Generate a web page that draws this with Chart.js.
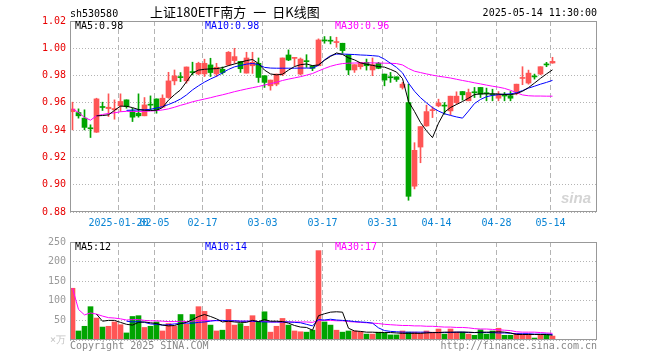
<!DOCTYPE html>
<html>
<head>
<meta charset="utf-8">
<script src="https://cdn.jsdelivr.net/npm/chart.js@4.4.1/dist/chart.umd.min.js"></script>
<style>
  body { margin: 0; width: 660px; height: 360px; background: #fff; position: relative; overflow: hidden;
         font-family: "DejaVu Sans Mono", monospace; font-size: 10px; }
  canvas { position: absolute; left: 0; }
  .t { position: absolute; white-space: nowrap; line-height: 12px; }
</style>
</head>
<body>
<canvas id="kline" width="660" height="232" style="top:0"></canvas>
<canvas id="vol" width="660" height="128" style="top:232px"></canvas>

<div class="t" style="left:70px;top:8px;color:#000">sh530580</div>
<div class="t" style="left:150px;top:4px;line-height:15px;font-size:13px;font-family:'Noto Sans CJK SC',sans-serif;color:#000">上证180ETF南方<span style="margin:0 6px 0 7px">一</span>日K线图</div>
<div class="t" style="right:63px;top:7px;color:#000">2025-05-14 11:30:00</div>
<div class="t" style="left:75px;top:20px;color:#000">MA5:0.98</div>
<div class="t" style="left:205px;top:20px;color:#0000ff">MA10:0.98</div>
<div class="t" style="left:335px;top:20px;color:#ff00ff">MA30:0.96</div>
<div class="t" style="left:75px;top:241px;color:#000">MA5:12</div>
<div class="t" style="left:205px;top:241px;color:#0000ff">MA10:14</div>
<div class="t" style="left:335px;top:241px;color:#ff00ff">MA30:17</div>
<div class="t" style="left:70px;top:340px;color:#888">Copyright 2025 SINA.COM</div>
<div class="t" style="right:63px;top:340px;color:#888">http://finance.sina.com.cn</div>
<div class="t" style="left:561px;top:189px;font:italic bold 15px 'Liberation Sans',sans-serif;color:#d4d4d4">sina</div>

<script>
// daily candles, 81 trading days ending 2025-05-14
var opens = [0.9535,0.9529,0.9488,0.9415,0.9385,0.9570,0.9558,0.9549,0.9578,0.9622,
  0.9541,0.9524,0.9505,0.9587,0.9629,0.9568,0.9639,0.9761,0.9790,0.9761,
  0.9826,0.9812,0.9812,0.9878,0.9812,0.9846,0.9878,0.9910,0.9904,0.9818,
  0.9872,0.9890,0.9799,0.9725,0.9737,0.9811,0.9951,0.9926,0.9811,0.9906,
  0.9872,0.9872,1.0058,1.0056,1.0042,1.0037,0.9953,0.9841,0.9865,0.9897,
  0.9841,0.9890,0.9811,0.9788,0.9791,0.9713,0.9602,0.8989,0.9276,0.9431,
  0.9543,0.9578,0.9580,0.9541,0.9602,0.9683,0.9615,0.9678,0.9713,0.9671,
  0.9662,0.9634,0.9654,0.9652,0.9683,0.9779,0.9745,0.9794,0.9811,0.9882,0.9892];
var highs = [0.9605,0.9556,0.9549,0.9439,0.9634,0.9605,0.9666,0.9622,0.9666,0.9622,
  0.9561,0.9666,0.9639,0.9651,0.9629,0.9659,0.9824,0.9841,0.9822,0.9863,
  0.9898,0.9898,0.9920,0.9927,0.9890,0.9863,0.9976,1.0000,0.9904,0.9971,
  0.9971,0.9929,0.9799,0.9767,0.9811,0.9929,0.9988,0.9929,0.9929,0.9953,
  0.9872,1.0069,1.0086,1.0086,1.0081,1.0037,0.9953,0.9880,0.9897,0.9921,
  0.9929,0.9897,0.9811,0.9823,0.9791,0.9750,0.9737,0.9308,0.9426,0.9583,
  0.9571,0.9627,0.9602,0.9649,0.9681,0.9683,0.9701,0.9713,0.9713,0.9708,
  0.9700,0.9683,0.9676,0.9683,0.9737,0.9865,0.9840,0.9811,0.9865,0.9897,0.9934];
var lows = [0.9402,0.9488,0.9402,0.9346,0.9383,0.9544,0.9500,0.9480,0.9537,0.9561,
  0.9463,0.9495,0.9505,0.9549,0.9524,0.9568,0.9634,0.9732,0.9756,0.9744,
  0.9805,0.9805,0.9793,0.9793,0.9793,0.9810,0.9872,0.9890,0.9823,0.9818,
  0.9816,0.9750,0.9713,0.9693,0.9725,0.9799,0.9909,0.9872,0.9804,0.9860,
  0.9836,0.9872,1.0037,1.0032,1.0007,0.9963,0.9806,0.9823,0.9848,0.9840,
  0.9799,0.9850,0.9725,0.9750,0.9757,0.9701,0.8886,0.8969,0.9161,0.9428,
  0.9492,0.9571,0.9517,0.9512,0.9590,0.9620,0.9615,0.9639,0.9639,0.9615,
  0.9615,0.9615,0.9615,0.9615,0.9659,0.9733,0.9737,0.9774,0.9806,0.9865,0.9890];
var closes = [0.9555,0.9505,0.9420,0.9410,0.9629,0.9566,0.9568,0.9558,0.9610,0.9573,
  0.9495,0.9505,0.9585,0.9583,0.9549,0.9634,0.9761,0.9798,0.9785,0.9863,
  0.9822,0.9890,0.9890,0.9822,0.9861,0.9822,0.9971,0.9939,0.9850,0.9929,
  0.9897,0.9786,0.9750,0.9767,0.9811,0.9929,0.9914,0.9929,0.9921,0.9902,
  0.9853,1.0061,1.0054,1.0052,1.0046,0.9983,0.9841,0.9880,0.9897,0.9872,
  0.9880,0.9853,0.9767,0.9784,0.9772,0.9737,0.8915,0.9252,0.9426,0.9536,
  0.9546,0.9600,0.9576,0.9649,0.9649,0.9659,0.9676,0.9674,0.9664,0.9667,
  0.9658,0.9659,0.9650,0.9634,0.9737,0.9784,0.9818,0.9790,0.9865,0.9878,0.9904];

var ma5 = [null,null,null,null,0.9505,0.9507,0.9512,0.9545,0.9576,0.9575,
  0.9565,0.9551,0.9546,0.9544,0.9546,0.9565,0.9620,0.9660,0.9695,0.9755,
  0.9817,0.9840,0.9846,0.9849,0.9851,0.9858,0.9873,0.9885,0.9898,0.9910,
  0.9918,0.9888,0.9840,0.9812,0.9805,0.9810,0.9840,0.9866,0.9880,0.9885,
  0.9873,0.9878,0.9912,0.9940,0.9966,0.9955,0.9930,0.9915,0.9893,0.9883,
  0.9875,0.9866,0.9862,0.9845,0.9826,0.9778,0.9610,0.9537,0.9456,0.9395,
  0.9345,0.9451,0.9532,0.9566,0.9588,0.9610,0.9634,0.9661,0.9666,0.9666,
  0.9666,0.9665,0.9662,0.9659,0.9668,0.9685,0.9712,0.9745,0.9780,0.9812,0.9842];
var ma10 = [null,null,null,null,null,null,null,null,null,0.9545,
  0.9547,0.9548,0.9549,0.9553,0.9562,0.9572,0.9588,0.9606,0.9628,0.9658,
  0.9695,0.9725,0.9752,0.9775,0.9795,0.9820,0.9845,0.9864,0.9874,0.9884,
  0.9889,0.9880,0.9860,0.9855,0.9854,0.9854,0.9854,0.9854,0.9855,0.9855,
  0.9855,0.9875,0.9915,0.9946,0.9957,0.9958,0.9956,0.9954,0.9951,0.9949,
  0.9946,0.9942,0.9920,0.9890,0.9860,0.9820,0.9745,0.9685,0.9638,0.9600,
  0.9565,0.9540,0.9520,0.9508,0.9497,0.9488,0.9540,0.9595,0.9625,0.9645,
  0.9655,0.9660,0.9663,0.9666,0.9674,0.9690,0.9708,0.9722,0.9737,0.9750,0.9765];
var ma30 = [0.9555,0.9530,0.9493,0.9473,0.9505,0.9515,0.9522,0.9527,0.9535,0.9538,
  0.9537,0.9537,0.9538,0.9540,0.9543,0.9548,0.9556,0.9568,0.9582,0.9594,
  0.9608,0.9618,0.9628,0.9638,0.9649,0.9659,0.9670,0.9682,0.9692,0.9702,
  0.9711,0.9720,0.9731,0.9741,0.9751,0.9764,0.9774,0.9783,0.9792,0.9803,
  0.9815,0.9834,0.9852,0.9868,0.9880,0.9888,0.9891,0.9892,0.9893,0.9893,
  0.9893,0.9892,0.9891,0.9890,0.9888,0.9878,0.9852,0.9832,0.9822,0.9812,
  0.9803,0.9795,0.9789,0.9782,0.9773,0.9764,0.9756,0.9747,0.9739,0.9730,
  0.9722,0.9715,0.9706,0.9692,0.9674,0.9658,0.9652,0.9650,0.9650,0.9649,0.9649];

// volume, in 10k lots
var volumes = [132,23,35,85,56,33,35,46,39,18,
  60,62,32,35,46,23,42,35,65,40,
  65,85,73,38,23,25,78,38,42,35,
  62,46,72,20,35,55,38,23,21,20,
  25,228,46,38,25,20,23,23,21,15,
  15,20,18,13,13,23,20,20,18,23,
  20,28,15,28,20,20,15,12,26,15,
  23,30,12,12,17,15,15,5,13,13,10];
var vma5 = [null,null,null,null,66,48,50,50,45,40,
  38,45,46,44,42,38,36,37,42,45,
  52,60,65,60,54,46,48,46,45,45,
  50,47,52,48,48,47,43,37,33,32,
  25,62,67,71,72,71,30,23,22,20,
  20,19,19,19,18,17,17,17,17,18,
  19,19,20,20,20,20,20,19,20,20,
  20,21,20,18,14,14,14,14,14,14,12];
var vma10 = [null,null,null,null,null,null,null,null,null,48,
  46,47,45,41,40,38,39,41,42,43,
  43,45,46,48,50,50,49,49,48,48,
  48,47,46,46,46,46,46,45,44,40,
  36,52,51,53,51,50,49,47,46,45,
  43,31,24,22,21,20,20,20,20,20,
  19,19,19,19,20,20,19,19,19,19,
  19,18,18,17,16,16,16,15,15,15,14];
var vma30 = [132,78,64,69,66,61,57,56,54,51,
  52,52,50,49,49,48,47,47,48,47,
  48,50,50,50,49,49,49,49,48,48,
  48,47,48,46,46,46,46,46,46,46,
  45,50,50,50,49,49,47,46,45,44,
  43,42,40,39,38,37,37,36,36,35,
  35,34,33,33,32,32,31,29,28,28,
  27,26,25,24,21,20,20,20,19,18,17];

var tickIdx = [8, 14, 22, 32, 42, 52, 61, 71, 80];
var tickLabels = ['2025-01-20', '02-05', '02-17', '03-03', '03-17', '03-31', '04-14', '04-28', '05-14'];
var priceTicks = [0.88, 0.90, 0.92, 0.94, 0.96, 0.98, 1.00, 1.02];
var volTicks = [0, 50, 100, 150, 200, 250];

var RED = '#ff5555', GREEN = '#00a400';
var MONO = '"DejaVu Sans Mono", monospace';
var days = closes.map(function(c, i) { return i; });
var barColors = days.map(function(i) { return closes[i] >= opens[i] ? RED : GREEN; });

// 6px per day, first candle centred 2.5px right of the axis
var X_MIN = -2.5 / 6, X_MAX = X_MIN + 527 / 6;

var frame = {
  id: 'frame',
  afterDraw: function(chart) {
    var a = chart.chartArea, ctx = chart.ctx;
    ctx.save();
    ctx.strokeStyle = '#999';
    ctx.lineWidth = 1;
    ctx.strokeRect(a.left + 0.5, a.top + 0.5, a.right - a.left - 1, a.bottom - a.top - 1);
    ctx.restore();
  }
};

function maLine(arr, color) {
  return {
    type: 'line',
    data: arr.map(function(v, i) { return { x: i, y: v }; }),
    borderColor: color, borderWidth: 1, pointRadius: 0, tension: 0,
    fill: false, order: 0
  };
}

function xAxis(labels) {
  return {
    type: 'linear', min: X_MIN, max: X_MAX, offset: false,
    grid: { color: '#b4b4b4', drawTicks: false, offset: false },
    border: { display: false, dash: [5, 3] },
    afterBuildTicks: function(s) {
      s.ticks = tickIdx.map(function(i) { return { value: i - 1 / 3 }; });
    },
    ticks: {
      display: labels, autoSkip: false, maxRotation: 0, minRotation: 0, padding: 5,
      color: '#0a84d4', font: { family: MONO, size: 10 },
      callback: function(v, k) { return tickLabels[k]; }
    },
    afterFit: function(s) { s.height = labels ? 20 : 0; }
  };
}

var common = {
  responsive: false, animation: false, devicePixelRatio: 1, events: [],
  plugins: { legend: { display: false }, tooltip: { enabled: false } }
};

new Chart(document.getElementById('kline'), {
  type: 'bar',
  data: {
    datasets: [
      maLine(ma5, '#000000'),
      maLine(ma10, '#0000ff'),
      maLine(ma30, '#ff00ff'),
      { type: 'bar', data: days.map(function(i) { return { x: i, y: [opens[i], closes[i]] }; }),
        backgroundColor: barColors, barThickness: 5, minBarLength: 1, grouped: false, order: 1 },
      { type: 'bar', data: days.map(function(i) { return { x: i, y: [lows[i], highs[i]] }; }),
        backgroundColor: barColors, barThickness: 1, grouped: false, order: 2 }
    ]
  },
  options: Object.assign({}, common, {
    layout: { padding: { top: 21, right: 63, left: 0, bottom: 0 } },
    scales: {
      x: xAxis(true),
      y: {
        min: 0.88, max: 1.02,
        afterBuildTicks: function(s) { s.ticks = priceTicks.map(function(v) { return { value: v }; }); },
        grid: { color: '#b4b4b4', drawTicks: false },
        border: { display: false, dash: [1, 2] },
        ticks: { color: '#e80000', padding: 4, font: { family: MONO, size: 10 },
                 callback: function(v) { return v.toFixed(2); } },
        afterFit: function(s) { s.width = 70; }
      }
    }
  }),
  plugins: [frame]
});

new Chart(document.getElementById('vol'), {
  type: 'bar',
  data: {
    datasets: [
      maLine(vma5, '#000000'),
      maLine(vma10, '#0000ff'),
      maLine(vma30, '#ff00ff'),
      { type: 'bar', data: days.map(function(i) { return { x: i, y: volumes[i] }; }),
        backgroundColor: barColors, barThickness: 5, grouped: false, order: 1 }
    ]
  },
  options: Object.assign({}, common, {
    layout: { padding: { top: 8, right: 63, left: 0, bottom: 20 } },
    scales: {
      x: xAxis(false),
      y: {
        min: 0, max: 250,
        afterBuildTicks: function(s) { s.ticks = volTicks.map(function(v) { return { value: v }; }); },
        grid: { color: '#b4b4b4', drawTicks: false },
        border: { display: false, dash: [1, 2] },
        ticks: {
          padding: 4, font: { family: MONO, size: 10 },
          color: function(c) { return c.tick && c.tick.value === 0 ? '#c4c4c4' : '#999'; },
          callback: function(v) { return v === 0 ? '×万' : String(v); }
        },
        afterFit: function(s) { s.width = 70; }
      }
    }
  }),
  plugins: [frame]
});
</script>
</body>
</html>
